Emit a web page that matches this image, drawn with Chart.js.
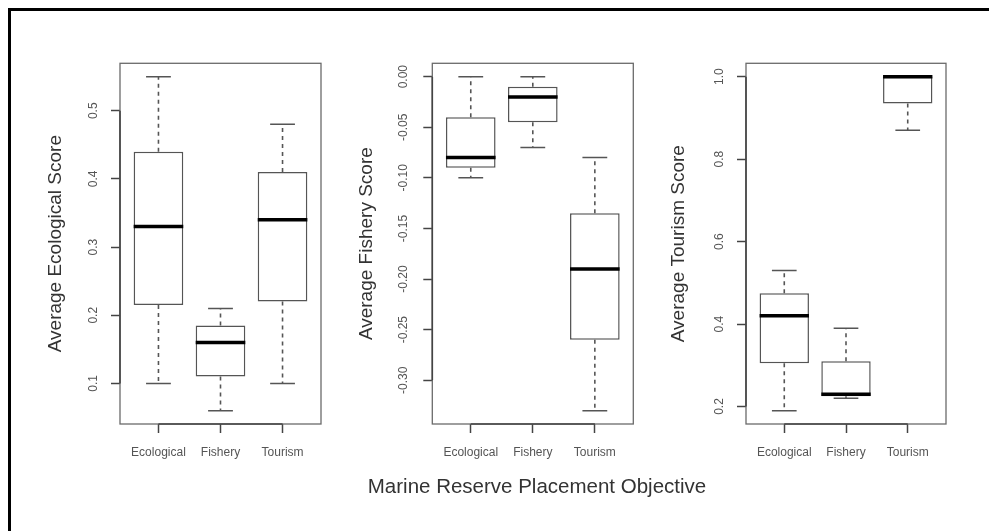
<!DOCTYPE html>
<html>
<head>
<meta charset="utf-8">
<script src="https://cdn.jsdelivr.net/npm/chart.js@4.4.1/dist/chart.umd.min.js"></script>
<style>
  html, body { margin: 0; padding: 0; background: #fff; }
  #page { position: relative; width: 989px; height: 531px; overflow: hidden; background: #fff; }
  #frame { position: absolute; left: 8px; top: 8px; width: 1000px; height: 600px; border-top: 3px solid #000; border-left: 3px solid #000; }
  canvas { position: absolute; left: 0; top: 0; }
  #xtitle { position: absolute; left: 287px; top: 474px; width: 500px; text-align: center;
            font: 20.5px "Liberation Sans", Arial, sans-serif; line-height: 24px; color: #333; }
</style>
</head>
<body>
<div id="page">
  <div id="frame"></div>
  <canvas id="ecoChart" width="989" height="531"></canvas>
  <canvas id="fishChart" width="989" height="531"></canvas>
  <canvas id="tourChart" width="989" height="531"></canvas>
  <div id="xtitle">Marine Reserve Placement Objective</div>
</div>
<script>
// placement objectives (x categories, shared by all three panels)
const objectives = ['Ecological', 'Fishery', 'Tourism'];

// Average Ecological Score
const ecoMin = [0.10, 0.06, 0.10];
const ecoQ1  = [0.215, 0.11, 0.22];
const ecoMed = [0.33, 0.16, 0.34];
const ecoQ3  = [0.44, 0.185, 0.41];
const ecoMax = [0.55, 0.21, 0.48];
const ecoTicks = [0.1, 0.2, 0.3, 0.4, 0.5];

// Average Fishery Score
const fishMin = [-0.10, -0.07, -0.33];
const fishQ1  = [-0.09, -0.045, -0.26];
const fishMed = [-0.08, -0.02, -0.19];
const fishQ3  = [-0.04, -0.01, -0.135];
const fishMax = [0.00, 0.00, -0.08];
const fishTicks = [0, -0.05, -0.10, -0.15, -0.20, -0.25, -0.30];

// Average Tourism Score
const tourMin = [0.19, 0.22, 0.87];
const tourQ1  = [0.305, 0.225, 0.935];
const tourMed = [0.42, 0.23, 1.0];
const tourQ3  = [0.475, 0.31, 1.0];
const tourMax = [0.53, 0.39, 1.0];
const tourTicks = [0.2, 0.4, 0.6, 0.8, 1.0];

const FONT = '"Liberation Sans", Arial, sans-serif';
const BOX_HALF = 0.4, CAP_HALF = 0.2;
const PLOT_TOP = 63.3, PLOT_BOTTOM = 424, Y_W = 80, X_H = 40;

// R-style box around the plot region plus axis lines running tick to tick
const rFrame = {
  id: 'rFrame',
  afterDatasetsDraw(chart) {
    const { ctx, chartArea: a, scales: { x, y } } = chart;
    ctx.save();
    ctx.strokeStyle = '#6a6a6a';
    ctx.lineWidth = 1.3;
    ctx.strokeRect(a.left, a.top, a.right - a.left, a.bottom - a.top);
    ctx.strokeStyle = '#444';
    ctx.lineWidth = 1.6;
    ctx.beginPath();
    ctx.moveTo(x.getPixelForValue(1), a.bottom);
    ctx.lineTo(x.getPixelForValue(objectives.length), a.bottom);
    const yt = y.ticks;
    ctx.moveTo(a.left, y.getPixelForValue(yt[0].value));
    ctx.lineTo(a.left, y.getPixelForValue(yt[yt.length - 1].value));
    ctx.stroke();
    ctx.restore();
  }
};

function boxPanel(id, p) {
  const lo = Math.min(...p.min), hi = Math.max(...p.max);
  const ext = (hi - lo) * 0.04;
  const gap = i => ({ x: i + 1, y: null });

  const boxes = objectives.map((c, i) => ({ x: i + 1, y: [p.q1[i], p.q3[i]] }));
  const whiskers = objectives.flatMap((c, i) => [
    { x: i + 1, y: p.q3[i] }, { x: i + 1, y: p.max[i] }, gap(i),
    { x: i + 1, y: p.q1[i] }, { x: i + 1, y: p.min[i] }, gap(i)
  ]);
  const caps = objectives.flatMap((c, i) => [
    { x: i + 1 - CAP_HALF, y: p.max[i] }, { x: i + 1 + CAP_HALF, y: p.max[i] }, gap(i),
    { x: i + 1 - CAP_HALF, y: p.min[i] }, { x: i + 1 + CAP_HALF, y: p.min[i] }, gap(i)
  ]);
  const medians = objectives.flatMap((c, i) => [
    { x: i + 1 - BOX_HALF, y: p.med[i] }, { x: i + 1 + BOX_HALF, y: p.med[i] }, gap(i)
  ]);

  const line = { type: 'line', pointRadius: 0, fill: false, tension: 0, spanGaps: false };

  return new Chart(document.getElementById(id), {
    type: 'bar',
    data: {
      datasets: [
        { data: boxes, backgroundColor: '#fff', borderColor: '#555', borderWidth: 1.5,
          borderSkipped: false, barPercentage: 0.8, categoryPercentage: 1, grouped: false, order: 3 },
        { ...line, data: whiskers, borderColor: '#555', borderWidth: 1.6, borderDash: [4, 4], order: 2 },
        { ...line, data: caps, borderColor: '#555', borderWidth: 1.5, order: 1 },
        { ...line, data: medians, borderColor: '#000', borderWidth: 3.5, order: 0 }
      ]
    },
    options: {
      responsive: false,
      devicePixelRatio: 1,
      animation: false,
      events: [],
      layout: { padding: { left: p.left - Y_W, right: 989 - p.right, top: PLOT_TOP, bottom: 531 - PLOT_BOTTOM - X_H } },
      plugins: { legend: { display: false }, tooltip: { enabled: false } },
      scales: {
        x: {
          type: 'linear', offset: false, min: 0.5 - 0.12, max: objectives.length + 0.5 + 0.12,
          afterBuildTicks: s => { s.ticks = objectives.map((c, i) => ({ value: i + 1 })); },
          afterFit: s => { s.height = X_H; },
          border: { display: false },
          grid: { offset: false, drawOnChartArea: false, drawTicks: true, tickLength: 9, tickColor: '#444', tickWidth: 1.5 },
          ticks: { padding: 12, color: '#555', font: { family: FONT, size: 12 },
                   callback: (v, i) => objectives[i] }
        },
        y: {
          type: 'linear', min: lo - ext, max: hi + ext,
          afterBuildTicks: s => { s.ticks = p.ticks.map(v => ({ value: v })); },
          afterFit: s => { s.width = Y_W; },
          border: { display: false },
          grid: { drawOnChartArea: false, drawTicks: true, tickLength: 9, tickColor: '#444', tickWidth: 1.5 },
          ticks: { minRotation: 90, maxRotation: 90, crossAlign: 'center', padding: p.tickPad,
                   color: '#555', font: { family: FONT, size: 12 },
                   callback: v => (Math.abs(v) < 1e-9 ? 0 : v).toFixed(p.digits) },
          title: { display: true, text: p.title, color: '#333', font: { family: FONT, size: 19 },
                   padding: { top: p.titlePad, bottom: 0 } }
        }
      }
    },
    plugins: [rFrame]
  });
}

boxPanel('ecoChart', { min: ecoMin, q1: ecoQ1, med: ecoMed, q3: ecoQ3, max: ecoMax, ticks: ecoTicks,
  digits: 1, title: 'Average Ecological Score', left: 120, right: 321, tickPad: 9.3, titlePad: 4.6 });
boxPanel('fishChart', { min: fishMin, q1: fishQ1, med: fishMed, q3: fishQ3, max: fishMax, ticks: fishTicks,
  digits: 2, title: 'Average Fishery Score', left: 432.3, right: 633.3, tickPad: 5.6, titlePad: 3 });
boxPanel('tourChart', { min: tourMin, q1: tourQ1, med: tourMed, q3: tourQ3, max: tourMax, ticks: tourTicks,
  digits: 1, title: 'Average Tourism Score', left: 746, right: 946, tickPad: 8.6, titlePad: 1.6 });
</script>
</body>
</html>
